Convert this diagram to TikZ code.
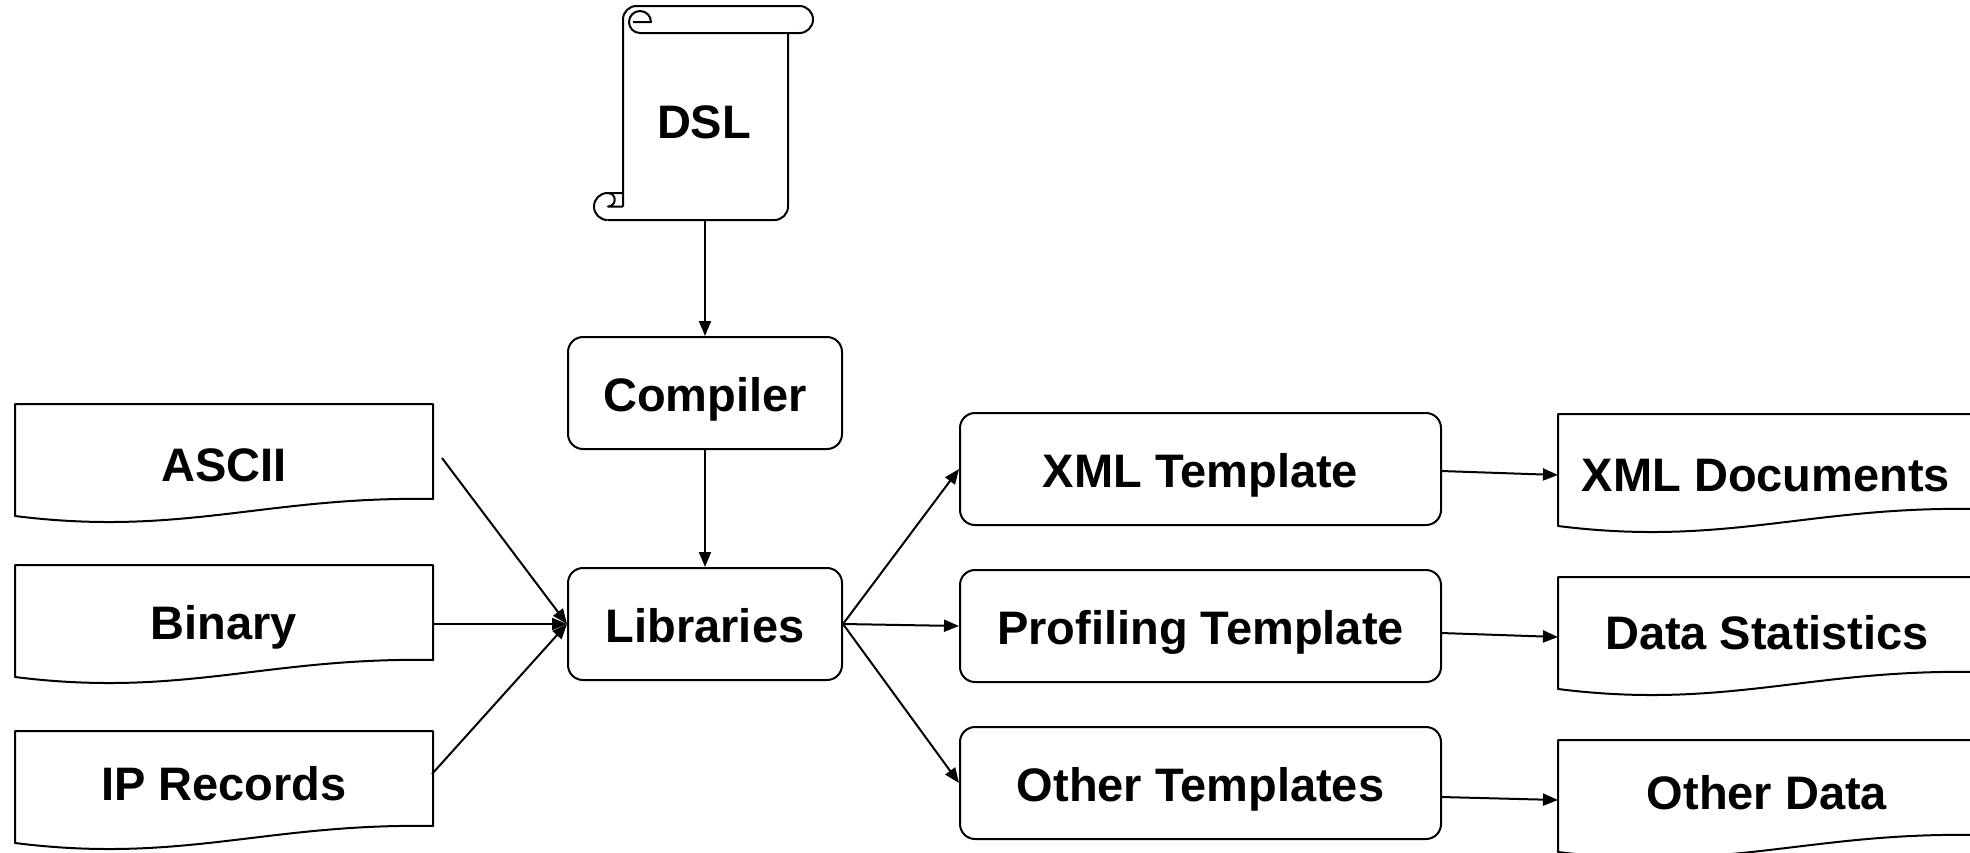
\documentclass[tikz,border=0pt]{standalone}
\usepackage{fontspec}
\setmainfont{Liberation Sans}
\usetikzlibrary{arrows.meta,calc}
\newcommand\lblfont{\fontsize{47}{53}\selectfont\bfseries}
\begin{document}
\begin{tikzpicture}[x=1pt,y=-1pt,
  line/.style={line width=2pt, draw=black, line join=round},
  box/.style={draw, line width=2pt, rounded corners=15pt, minimum height=112pt, inner sep=0pt, font=\lblfont, text height=44.6pt, text depth=7pt},
  smallbox/.style={box, minimum width=274pt},
  widebox/.style={box, minimum width=481pt},
  lbl/.style={inner sep=0pt, font=\lblfont, text height=44.6pt, text depth=7pt},
  arr/.style={line width=2pt, -{Triangle[length=15pt,width=12pt]}},
  docpic/.pic={\draw[line] (0,0) -- (418,0) -- (418,95) .. controls (250.8,92) and (167.2,133) .. (0,112) -- cycle;}
]
\useasboundingbox (0,0) rectangle (1970,852);

% DSL scroll
\draw[line, rounded corners=13.5pt] (623,206.5) -- (623,6) -- (813,6) -- (813,33) -- (640,33);
\draw[line] (640,33) arc[start angle=90, end angle=360, radius=11] -- (633,22);
\draw[line, rounded corners=13.5pt] (788,33) -- (788,220) -- (607.5,220);
\draw[line] (607.5,220) arc[start angle=90, end angle=270, radius=13.5] -- (623,193);
\draw[line] (608,193) arc[start angle=270, end angle=450, radius=6.75] -- (623,206.5);
\node[lbl] (dsl) at (704,120) {DSL};
\coordinate (dslbot) at (705,220);

% rounded boxes
\node[smallbox] (compiler) at (705,393) {Compiler};
\node[smallbox] (libs) at (705,624) {Libraries};
\node[widebox] (xmlt) at (1200.5,469) {XML Template};
\node[widebox] (proft) at (1200.5,626) {Profiling Template};
\node[widebox] (othert) at (1200.5,783) {Other Templates};

% input documents
\pic at (15,404) {docpic};
\pic at (15,565) {docpic};
\pic at (15,731) {docpic};
\node[lbl] (ascii) at (224,463) {ASCII};
\node[lbl] (binary) at (224,621) {Binary};
\node[lbl] (iprec) at (224,782) {IP Records};

% output documents
\pic at (1558,414) {docpic};
\pic at (1558,577) {docpic};
\pic at (1558,740) {docpic};
\node[lbl] (xmldocs) at (1766,473) {XML Documents};
\node[lbl] (datastat) at (1767,631) {Data Statistics};
\node[lbl] (otherdata) at (1767,791) {Other Data};

% connector end points
\coordinate (asciiout) at (442,458);
\coordinate (binout) at (433,624);
\coordinate (ipout) at (432,774);
\coordinate (xmltout) at (1441,471);
\coordinate (proftout) at (1441,633);
\coordinate (othertout) at (1441,797);
\coordinate (xmldin) at (1558,475);
\coordinate (datain) at (1558,637);
\coordinate (otherin) at (1558,800);

% connectors
\draw[arr] (dslbot) -- (compiler.north);
\draw[arr] (compiler.south) -- (libs.north);
\draw[arr] (asciiout) -- (libs.west);
\draw[arr] (binout) -- (libs.west);
\draw[arr] (ipout) -- (libs.west);
\draw[arr] (libs.east) -- (xmlt.west);
\draw[arr] (libs.east) -- (proft.west);
\draw[arr] (libs.east) -- (othert.west);
\draw[arr] (xmltout) -- (xmldin);
\draw[arr] (proftout) -- (datain);
\draw[arr] (othertout) -- (otherin);
\end{tikzpicture}
\end{document}
